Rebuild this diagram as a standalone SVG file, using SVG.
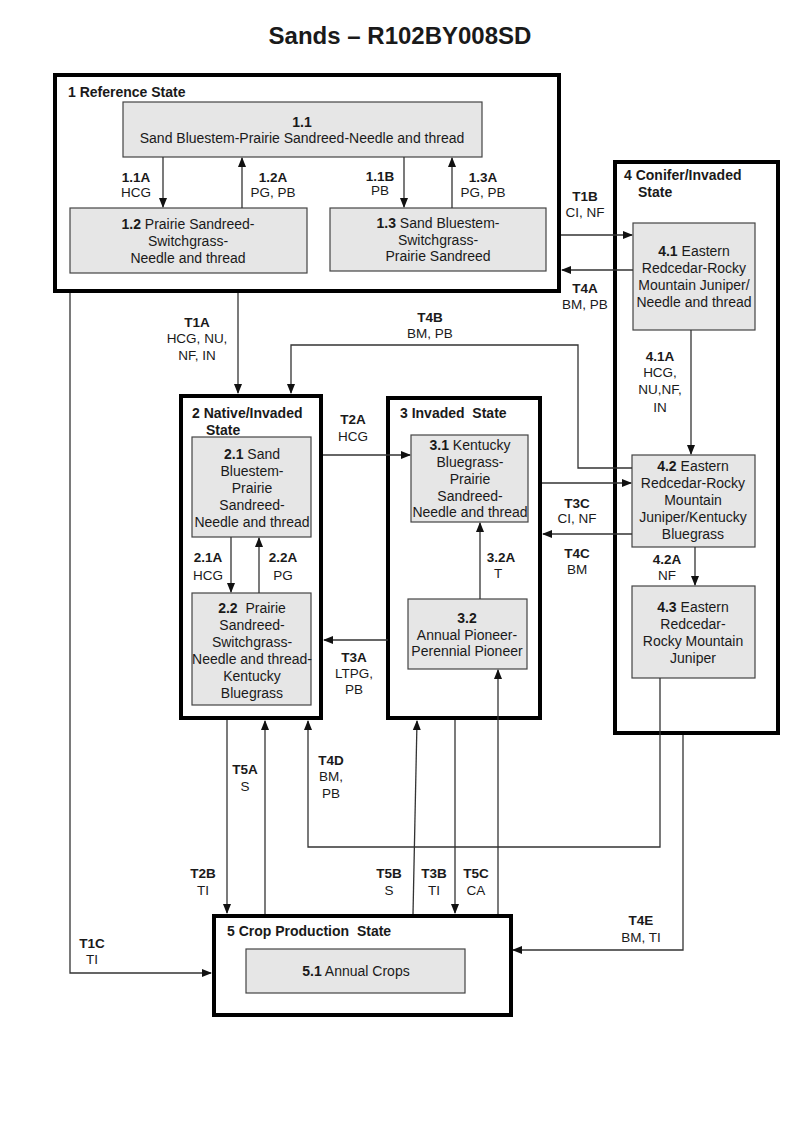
<svg xmlns="http://www.w3.org/2000/svg" width="800" height="1143" viewBox="0 0 800 1143">
<style>
text{font-family:"Liberation Sans",Arial,sans-serif;fill:#1a1a1a;white-space:pre}
.title{font-size:24px;font-weight:bold;text-anchor:middle}
.st{font-size:14px;font-weight:bold}
.bx{font-size:14px;text-anchor:middle}
.lb{font-size:13.5px;text-anchor:middle}
.b{font-weight:bold}
.outer{fill:#fff;stroke:#000;stroke-width:4}
.inner{fill:#e6e6e6;stroke:#444;stroke-width:1.2}
.c{fill:none;stroke:#333;stroke-width:1.3}
</style>
<defs>
<marker id="ah" markerWidth="10" markerHeight="10" refX="9" refY="5" orient="auto" markerUnits="userSpaceOnUse">
<path d="M0,1 L10,5 L0,9 z" fill="#111"/>
</marker>
</defs>
<rect width="800" height="1143" fill="#fff"/>
<text class="title" x="400" y="44">Sands – R102BY008SD</text>

<g id="state1">
<rect class="outer" x="55" y="75" width="504" height="216"/>
<text class="st" x="68" y="97">1 Reference State</text>
</g>
<g id="n11">
<rect class="inner" x="123" y="102" width="359" height="55"/>
<text class="bx" x="302" y="127"><tspan class="b">1.1</tspan></text>
<text class="bx" x="302" y="143">Sand Bluestem-Prairie Sandreed-Needle and thread</text>
</g>
<g id="n12">
<rect class="inner" x="70" y="208" width="237" height="65"/>
<text class="bx" x="188" y="229"><tspan class="b">1.2</tspan> Prairie Sandreed-</text>
<text class="bx" x="188" y="246">Switchgrass-</text>
<text class="bx" x="188" y="263">Needle and thread</text>
</g>
<g id="n13">
<rect class="inner" x="330" y="208" width="216" height="63"/>
<text class="bx" x="438" y="228"><tspan class="b">1.3</tspan> Sand Bluestem-</text>
<text class="bx" x="438" y="245">Switchgrass-</text>
<text class="bx" x="438" y="261">Prairie Sandreed</text>
</g>

<g id="state4">
<rect class="outer" x="615" y="162" width="163" height="571"/>
<text class="st" x="624" y="180">4 Conifer/Invaded</text>
<text class="st" x="638" y="197">State</text>
</g>
<g id="n41">
<rect class="inner" x="633" y="223" width="122" height="107"/>
<text class="bx" x="694" y="256"><tspan class="b">4.1</tspan> Eastern</text>
<text class="bx" x="694" y="273">Redcedar-Rocky</text>
<text class="bx" x="694" y="290">Mountain Juniper/</text>
<text class="bx" x="694" y="307">Needle and thread</text>
</g>
<g id="n42">
<rect class="inner" x="632" y="455" width="123" height="92"/>
<text class="bx" x="693" y="471"><tspan class="b">4.2</tspan> Eastern</text>
<text class="bx" x="693" y="488">Redcedar-Rocky</text>
<text class="bx" x="693" y="505">Mountain</text>
<text class="bx" x="693" y="522">Juniper/Kentucky</text>
<text class="bx" x="693" y="539">Bluegrass</text>
</g>
<g id="n43">
<rect class="inner" x="632" y="586" width="123" height="92"/>
<text class="bx" x="693" y="612"><tspan class="b">4.3</tspan> Eastern</text>
<text class="bx" x="693" y="629">Redcedar-</text>
<text class="bx" x="693" y="646">Rocky Mountain</text>
<text class="bx" x="693" y="663">Juniper</text>
</g>

<g id="state2">
<rect class="outer" x="181" y="396" width="140" height="322"/>
<text class="st" x="192" y="418">2 Native/Invaded</text>
<text class="st" x="206" y="435">State</text>
</g>
<g id="n21">
<rect class="inner" x="192" y="437" width="119" height="100"/>
<text class="bx" x="252" y="459"><tspan class="b">2.1</tspan> Sand</text>
<text class="bx" x="252" y="476">Bluestem-</text>
<text class="bx" x="252" y="493">Prairie</text>
<text class="bx" x="252" y="510">Sandreed-</text>
<text class="bx" x="252" y="527">Needle and thread</text>
</g>
<g id="n22">
<rect class="inner" x="192" y="593" width="119" height="112"/>
<text class="bx" x="252" y="613"><tspan class="b">2.2</tspan>  Prairie</text>
<text class="bx" x="252" y="630">Sandreed-</text>
<text class="bx" x="252" y="647">Switchgrass-</text>
<text class="bx" x="252" y="664">Needle and thread-</text>
<text class="bx" x="252" y="681">Kentucky</text>
<text class="bx" x="252" y="698">Bluegrass</text>
</g>

<g id="state3">
<rect class="outer" x="388" y="398" width="152" height="320"/>
<text class="st" x="400" y="418">3 Invaded  State</text>
</g>
<g id="n31">
<rect class="inner" x="411" y="435" width="117" height="87"/>
<text class="bx" x="470" y="450"><tspan class="b">3.1</tspan> Kentucky</text>
<text class="bx" x="470" y="467">Bluegrass-</text>
<text class="bx" x="470" y="484">Prairie</text>
<text class="bx" x="470" y="501">Sandreed-</text>
<text class="bx" x="470" y="517">Needle and thread</text>
</g>
<g id="n32">
<rect class="inner" x="408" y="599" width="119" height="70"/>
<text class="bx" x="467" y="623"><tspan class="b">3.2</tspan></text>
<text class="bx" x="467" y="640">Annual Pioneer-</text>
<text class="bx" x="467" y="656">Perennial Pioneer</text>
</g>

<g id="state5">
<rect class="outer" x="214" y="916" width="297" height="99"/>
<text class="st" x="227" y="936">5 Crop Production  State</text>
</g>
<g id="n51">
<rect class="inner" x="246" y="949" width="219" height="44"/>
<text class="bx" x="356" y="976"><tspan class="b">5.1</tspan> Annual Crops</text>
</g>

<g id="connectors">
<path class="c" d="M163,157 V207" marker-end="url(#ah)"/>
<path class="c" d="M242,208 V158" marker-end="url(#ah)"/>
<path class="c" d="M404,157 V207" marker-end="url(#ah)"/>
<path class="c" d="M452,208 V158" marker-end="url(#ah)"/>
<path class="c" d="M561,235 H632" marker-end="url(#ah)"/>
<path class="c" d="M633,270 H562" marker-end="url(#ah)"/>
<path class="c" d="M238,293 V393" marker-end="url(#ah)"/>
<path class="c" d="M632,468 H578 V345 H291 V393" marker-end="url(#ah)"/>
<path class="c" d="M70,293 V973 H211" marker-end="url(#ah)"/>
<path class="c" d="M691,330 V454" marker-end="url(#ah)"/>
<path class="c" d="M695,547 V585" marker-end="url(#ah)"/>
<path class="c" d="M323,455 H410" marker-end="url(#ah)"/>
<path class="c" d="M542,483 H631" marker-end="url(#ah)"/>
<path class="c" d="M632,534 H543" marker-end="url(#ah)"/>
<path class="c" d="M231,537 V592" marker-end="url(#ah)"/>
<path class="c" d="M259,593 V538" marker-end="url(#ah)"/>
<path class="c" d="M480,599 V523" marker-end="url(#ah)"/>
<path class="c" d="M388,640 H324" marker-end="url(#ah)"/>
<path class="c" d="M660,678 V847 H308 V721" marker-end="url(#ah)"/>
<path class="c" d="M265,914 V721" marker-end="url(#ah)"/>
<path class="c" d="M227,720 V913" marker-end="url(#ah)"/>
<path class="c" d="M413,914 L417,721" marker-end="url(#ah)"/>
<path class="c" d="M455,720 V913" marker-end="url(#ah)"/>
<path class="c" d="M498,914 V670" marker-end="url(#ah)"/>
<path class="c" d="M683,735 V950 H513" marker-end="url(#ah)"/>
</g>

<g id="labels">
<text class="lb" x="136" y="182"><tspan class="b">1.1A</tspan></text><text class="lb" x="136" y="197">HCG</text>
<text class="lb" x="273" y="182"><tspan class="b">1.2A</tspan></text><text class="lb" x="273" y="197">PG, PB</text>
<text class="lb" x="380" y="181"><tspan class="b">1.1B</tspan></text><text class="lb" x="380" y="195">PB</text>
<text class="lb" x="483" y="182"><tspan class="b">1.3A</tspan></text><text class="lb" x="483" y="197">PG, PB</text>
<text class="lb" x="585" y="201"><tspan class="b">T1B</tspan></text><text class="lb" x="585" y="217">CI, NF</text>
<text class="lb" x="585" y="293"><tspan class="b">T4A</tspan></text><text class="lb" x="585" y="309">BM, PB</text>
<text class="lb" x="197" y="327"><tspan class="b">T1A</tspan></text><text class="lb" x="197" y="343">HCG, NU,</text><text class="lb" x="197" y="360">NF, IN</text>
<text class="lb" x="430" y="322"><tspan class="b">T4B</tspan></text><text class="lb" x="430" y="338">BM, PB</text>
<text class="lb" x="660" y="361"><tspan class="b">4.1A</tspan></text><text class="lb" x="660" y="377">HCG,</text><text class="lb" x="660" y="394">NU,NF,</text><text class="lb" x="660" y="412">IN</text>
<text class="lb" x="353" y="424"><tspan class="b">T2A</tspan></text><text class="lb" x="353" y="441">HCG</text>
<text class="lb" x="577" y="508"><tspan class="b">T3C</tspan></text><text class="lb" x="577" y="523">CI, NF</text>
<text class="lb" x="577" y="558"><tspan class="b">T4C</tspan></text><text class="lb" x="577" y="574">BM</text>
<text class="lb" x="208" y="562"><tspan class="b">2.1A</tspan></text><text class="lb" x="208" y="580">HCG</text>
<text class="lb" x="283" y="562"><tspan class="b">2.2A</tspan></text><text class="lb" x="283" y="580">PG</text>
<text class="lb" x="501" y="562"><tspan class="b">3.2A</tspan></text><text class="lb" x="498" y="578">T</text>
<text class="lb" x="667" y="564"><tspan class="b">4.2A</tspan></text><text class="lb" x="667" y="580">NF</text>
<text class="lb" x="354" y="662"><tspan class="b">T3A</tspan></text><text class="lb" x="354" y="678">LTPG,</text><text class="lb" x="354" y="694">PB</text>
<text class="lb" x="331" y="765"><tspan class="b">T4D</tspan></text><text class="lb" x="331" y="781">BM,</text><text class="lb" x="331" y="798">PB</text>
<text class="lb" x="245" y="774"><tspan class="b">T5A</tspan></text><text class="lb" x="245" y="791">S</text>
<text class="lb" x="203" y="878"><tspan class="b">T2B</tspan></text><text class="lb" x="203" y="895">TI</text>
<text class="lb" x="389" y="878"><tspan class="b">T5B</tspan></text><text class="lb" x="389" y="895">S</text>
<text class="lb" x="434" y="878"><tspan class="b">T3B</tspan></text><text class="lb" x="434" y="895">TI</text>
<text class="lb" x="476" y="878"><tspan class="b">T5C</tspan></text><text class="lb" x="476" y="895">CA</text>
<text class="lb" x="641" y="925"><tspan class="b">T4E</tspan></text><text class="lb" x="641" y="942">BM, TI</text>
<text class="lb" x="92" y="948"><tspan class="b">T1C</tspan></text><text class="lb" x="92" y="964">TI</text>
</g>
</svg>
